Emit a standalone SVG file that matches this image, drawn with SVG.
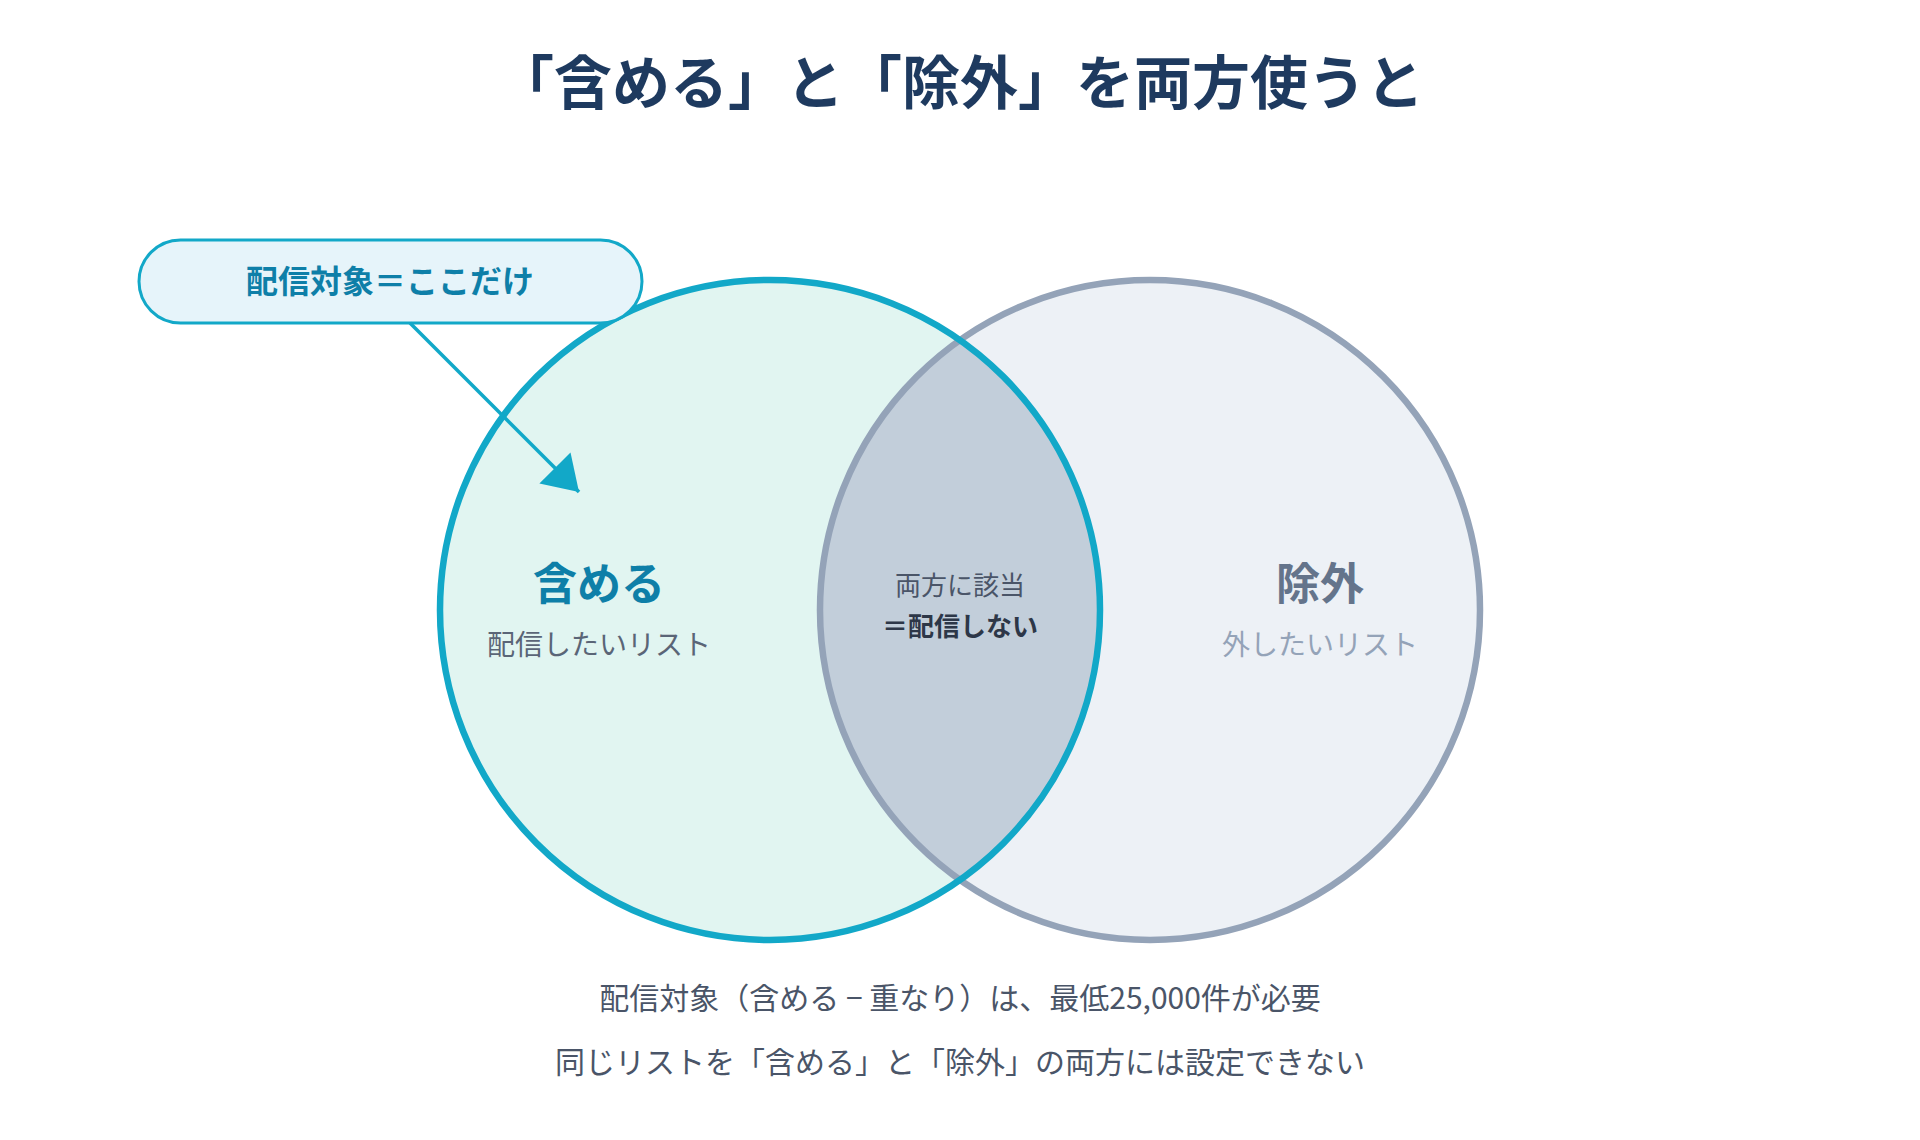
<svg xmlns="http://www.w3.org/2000/svg" width="1920" height="1140" viewBox="0 0 1920 1140">
<defs>
<style>
text{font-family:"Noto Sans CJK JP","Noto Sans",sans-serif;text-anchor:middle;}
.title{font-size:58px;font-weight:700;fill:#1e3a5f;}
.callout{font-size:32px;font-weight:700;fill:#0e7fa8;}
.lbl{font-size:44px;font-weight:700;}
.sub{font-size:28px;}
.lens{font-size:26px;}
.note{font-size:30px;fill:#4a5568;}
</style>
<marker id="ah" markerUnits="userSpaceOnUse" markerWidth="36" markerHeight="46" refX="34" refY="23" orient="auto">
<path d="M0,1 L34,23 L0,45 Z" fill="#12a8c8"/>
</marker>
</defs>
<rect width="1920" height="1140" fill="#ffffff"/>
<text class="title" x="960" y="104">「含める」と「除外」を両方使うと</text>
<g id="include">
<circle cx="770" cy="610" r="330" fill="#e1f5f1"/>
</g>
<g id="exclude">
<circle cx="1150" cy="610" r="330" fill="#edf1f6"/>
</g>
<g id="overlap">
<path d="M960,340.2 A330,330 0 0 1 960,879.8 A330,330 0 0 1 960,340.2 Z" fill="#c2ceda"/>
</g>
<g id="outlines">
<circle cx="1150" cy="610" r="330" fill="none" stroke="#94a3b8" stroke-width="6.5"/>
<circle cx="770" cy="610" r="330" fill="none" stroke="#12a8c8" stroke-width="6.5"/>
</g>
<g id="include-label">
<text class="lbl" x="599" y="600" fill="#0e7fa8">含める</text>
<text class="sub" x="599" y="655" fill="#5a6577">配信したいリスト</text>
</g>
<g id="overlap-label">
<text class="lens" x="960" y="595" fill="#4a5568">両方に該当</text>
<text class="lens" x="960" y="636" fill="#2d3748" font-weight="700">＝配信しない</text>
</g>
<g id="exclude-label">
<text class="lbl" x="1320" y="600" fill="#64748b">除外</text>
<text class="sub" x="1320" y="655" fill="#94a3b8">外したいリスト</text>
</g>
<g id="callout">
<rect x="139" y="240" width="503" height="83" rx="41.5" fill="#e6f4fa" stroke="#12a8c8" stroke-width="3"/>
<text class="callout" x="390" y="293">配信対象＝ここだけ</text>
</g>
<g id="connectors">
<line x1="410" y1="323" x2="579" y2="492" stroke="#12a8c8" stroke-width="3.5" marker-end="url(#ah)"/>
</g>
<g id="notes">
<text class="note" x="960" y="1009">配信対象（含める − 重なり）は、最低25,000件が必要</text>
<text class="note" x="960" y="1073">同じリストを「含める」と「除外」の両方には設定できない</text>
</g>
</svg>
